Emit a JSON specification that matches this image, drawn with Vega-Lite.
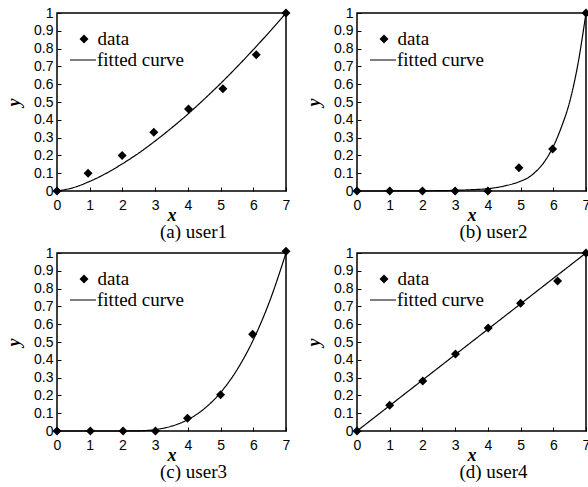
{
  "$schema": "https://vega.github.io/schema/vega-lite/v6.json",
  "padding": {"left": 4, "top": 5, "right": 0, "bottom": 0},
  "background": "white",
  "datasets": {
    "points": [
      {"user": "user1", "x": 0, "y": 0},
      {"user": "user1", "x": 0.95, "y": 0.1},
      {"user": "user1", "x": 1.99, "y": 0.2},
      {"user": "user1", "x": 2.96, "y": 0.33},
      {"user": "user1", "x": 4.02, "y": 0.46},
      {"user": "user1", "x": 5.07, "y": 0.575},
      {"user": "user1", "x": 6.09, "y": 0.765},
      {"user": "user1", "x": 7, "y": 1},
      {"user": "user2", "x": 0, "y": 0},
      {"user": "user2", "x": 1, "y": 0},
      {"user": "user2", "x": 2, "y": 0},
      {"user": "user2", "x": 3, "y": 0},
      {"user": "user2", "x": 4, "y": 0},
      {"user": "user2", "x": 4.95, "y": 0.13},
      {"user": "user2", "x": 5.98, "y": 0.236},
      {"user": "user2", "x": 7, "y": 1},
      {"user": "user3", "x": 0, "y": 0},
      {"user": "user3", "x": 1.02, "y": 0},
      {"user": "user3", "x": 2.02, "y": 0},
      {"user": "user3", "x": 3.01, "y": 0},
      {"user": "user3", "x": 3.99, "y": 0.071},
      {"user": "user3", "x": 5.0, "y": 0.203},
      {"user": "user3", "x": 5.98, "y": 0.544},
      {"user": "user3", "x": 7, "y": 1.01},
      {"user": "user4", "x": 0, "y": 0},
      {"user": "user4", "x": 1, "y": 0.144},
      {"user": "user4", "x": 2.01, "y": 0.281},
      {"user": "user4", "x": 3.01, "y": 0.432},
      {"user": "user4", "x": 4.01, "y": 0.578},
      {"user": "user4", "x": 5, "y": 0.717},
      {"user": "user4", "x": 6.13, "y": 0.842},
      {"user": "user4", "x": 7, "y": 1}
    ],
    "curves": [
      {"user": "user1", "x": 0, "y": 0},
      {"user": "user1", "x": 0.5, "y": 0.019},
      {"user": "user1", "x": 1, "y": 0.054},
      {"user": "user1", "x": 1.5, "y": 0.099},
      {"user": "user1", "x": 2, "y": 0.153},
      {"user": "user1", "x": 2.5, "y": 0.213},
      {"user": "user1", "x": 3, "y": 0.281},
      {"user": "user1", "x": 3.5, "y": 0.354},
      {"user": "user1", "x": 4, "y": 0.432},
      {"user": "user1", "x": 4.5, "y": 0.516},
      {"user": "user1", "x": 5, "y": 0.604},
      {"user": "user1", "x": 5.5, "y": 0.697},
      {"user": "user1", "x": 6, "y": 0.794},
      {"user": "user1", "x": 6.5, "y": 0.895},
      {"user": "user1", "x": 7, "y": 1},
      {"user": "user2", "x": 0, "y": 0},
      {"user": "user2", "x": 1, "y": 0.0002},
      {"user": "user2", "x": 2, "y": 0.0009},
      {"user": "user2", "x": 3, "y": 0.0037},
      {"user": "user2", "x": 3.5, "y": 0.0074},
      {"user": "user2", "x": 4, "y": 0.013},
      {"user": "user2", "x": 4.5, "y": 0.028},
      {"user": "user2", "x": 5, "y": 0.055},
      {"user": "user2", "x": 5.25, "y": 0.077},
      {"user": "user2", "x": 5.5, "y": 0.115},
      {"user": "user2", "x": 5.75, "y": 0.17},
      {"user": "user2", "x": 6, "y": 0.25},
      {"user": "user2", "x": 6.25, "y": 0.36},
      {"user": "user2", "x": 6.5, "y": 0.5},
      {"user": "user2", "x": 6.75, "y": 0.71},
      {"user": "user2", "x": 7, "y": 1},
      {"user": "user3", "x": 0, "y": 0},
      {"user": "user3", "x": 1, "y": 0},
      {"user": "user3", "x": 2, "y": 0},
      {"user": "user3", "x": 2.5, "y": 0.001},
      {"user": "user3", "x": 3, "y": 0.008},
      {"user": "user3", "x": 3.5, "y": 0.027},
      {"user": "user3", "x": 4, "y": 0.064},
      {"user": "user3", "x": 4.5, "y": 0.125},
      {"user": "user3", "x": 5, "y": 0.216},
      {"user": "user3", "x": 5.5, "y": 0.343},
      {"user": "user3", "x": 6, "y": 0.512},
      {"user": "user3", "x": 6.5, "y": 0.729},
      {"user": "user3", "x": 7, "y": 1},
      {"user": "user4", "x": 0, "y": 0},
      {"user": "user4", "x": 7, "y": 1}
    ]
  },
  "columns": 2,
  "spacing": {"column": 12, "row": 2},
  "concat": [
    {
      "width": 229, "height": 178,
      "title": {"text": "(a) user1", "orient": "bottom", "dx": 22},
      "encoding": {
        "x": {"field": "x", "type": "quantitative", "scale": {"domain": [0, 7], "nice": false}, "axis": {"title": "x", "values": [0,1,2,3,4,5,6,7]}},
        "y": {"field": "y", "type": "quantitative", "scale": {"domain": [0, 1], "nice": false}, "axis": {"title": "y", "values": [0,0.1,0.2,0.3,0.4,0.5,0.6,0.7,0.8,0.9,1], "format": "~g"}}
      },
      "layer": [
        {"data": {"name": "curves"}, "transform": [{"filter": "datum.user === 'user1'"}],
         "mark": {"type": "line", "color": "black", "strokeWidth": 1.2, "interpolate": "monotone", "clip": false},
         "encoding": {"strokeDash": {"datum": "fitted curve", "scale": {"domain": ["fitted curve"], "range": [[1, 0]]},
           "legend": {"orient": "none", "legendX": 12, "legendY": 33, "title": null, "symbolSize": 676, "symbolStrokeWidth": 1.2, "symbolStrokeColor": "black", "padding": 0, "labelOffset": 0, "labelFont": "Liberation Serif", "labelFontSize": 19, "labelColor": "black"}}}},
        {"data": {"name": "points"}, "transform": [{"filter": "datum.user === 'user1'"}],
         "mark": {"type": "point", "filled": true, "color": "black", "size": 81, "opacity": 1},
         "encoding": {"shape": {"datum": "data", "scale": {"domain": ["data"], "range": ["diamond"]},
           "legend": {"orient": "none", "legendX": 17.5, "legendY": 16.5, "title": null, "symbolSize": 81, "symbolFillColor": "black", "symbolOpacity": 1, "padding": 0, "labelOffset": 4, "labelFont": "Liberation Serif", "labelFontSize": 19, "labelColor": "black"}}}}
      ]
    },
    {
      "width": 229, "height": 178,
      "title": {"text": "(b) user2", "orient": "bottom", "dx": 22},
      "encoding": {
        "x": {"field": "x", "type": "quantitative", "scale": {"domain": [0, 7], "nice": false}, "axis": {"title": "x", "values": [0,1,2,3,4,5,6,7]}},
        "y": {"field": "y", "type": "quantitative", "scale": {"domain": [0, 1], "nice": false}, "axis": {"title": "y", "values": [0,0.1,0.2,0.3,0.4,0.5,0.6,0.7,0.8,0.9,1], "format": "~g"}}
      },
      "layer": [
        {"data": {"name": "curves"}, "transform": [{"filter": "datum.user === 'user2'"}],
         "mark": {"type": "line", "color": "black", "strokeWidth": 1.2, "interpolate": "monotone", "clip": false},
         "encoding": {"strokeDash": {"datum": "fitted curve", "scale": {"domain": ["fitted curve"], "range": [[1, 0]]},
           "legend": {"orient": "none", "legendX": 12, "legendY": 33, "title": null, "symbolSize": 676, "symbolStrokeWidth": 1.2, "symbolStrokeColor": "black", "padding": 0, "labelOffset": 0, "labelFont": "Liberation Serif", "labelFontSize": 19, "labelColor": "black"}}}},
        {"data": {"name": "points"}, "transform": [{"filter": "datum.user === 'user2'"}],
         "mark": {"type": "point", "filled": true, "color": "black", "size": 81, "opacity": 1},
         "encoding": {"shape": {"datum": "data", "scale": {"domain": ["data"], "range": ["diamond"]},
           "legend": {"orient": "none", "legendX": 17.5, "legendY": 16.5, "title": null, "symbolSize": 81, "symbolFillColor": "black", "symbolOpacity": 1, "padding": 0, "labelOffset": 4, "labelFont": "Liberation Serif", "labelFontSize": 19, "labelColor": "black"}}}}
      ]
    },
    {
      "width": 229, "height": 178,
      "title": {"text": "(c) user3", "orient": "bottom", "dx": 22},
      "encoding": {
        "x": {"field": "x", "type": "quantitative", "scale": {"domain": [0, 7], "nice": false}, "axis": {"title": "x", "values": [0,1,2,3,4,5,6,7]}},
        "y": {"field": "y", "type": "quantitative", "scale": {"domain": [0, 1], "nice": false}, "axis": {"title": "y", "values": [0,0.1,0.2,0.3,0.4,0.5,0.6,0.7,0.8,0.9,1], "format": "~g"}}
      },
      "layer": [
        {"data": {"name": "curves"}, "transform": [{"filter": "datum.user === 'user3'"}],
         "mark": {"type": "line", "color": "black", "strokeWidth": 1.2, "interpolate": "monotone", "clip": false},
         "encoding": {"strokeDash": {"datum": "fitted curve", "scale": {"domain": ["fitted curve"], "range": [[1, 0]]},
           "legend": {"orient": "none", "legendX": 12, "legendY": 33, "title": null, "symbolSize": 676, "symbolStrokeWidth": 1.2, "symbolStrokeColor": "black", "padding": 0, "labelOffset": 0, "labelFont": "Liberation Serif", "labelFontSize": 19, "labelColor": "black"}}}},
        {"data": {"name": "points"}, "transform": [{"filter": "datum.user === 'user3'"}],
         "mark": {"type": "point", "filled": true, "color": "black", "size": 81, "opacity": 1},
         "encoding": {"shape": {"datum": "data", "scale": {"domain": ["data"], "range": ["diamond"]},
           "legend": {"orient": "none", "legendX": 17.5, "legendY": 16.5, "title": null, "symbolSize": 81, "symbolFillColor": "black", "symbolOpacity": 1, "padding": 0, "labelOffset": 4, "labelFont": "Liberation Serif", "labelFontSize": 19, "labelColor": "black"}}}}
      ]
    },
    {
      "width": 229, "height": 178,
      "title": {"text": "(d) user4", "orient": "bottom", "dx": 22},
      "encoding": {
        "x": {"field": "x", "type": "quantitative", "scale": {"domain": [0, 7], "nice": false}, "axis": {"title": "x", "values": [0,1,2,3,4,5,6,7]}},
        "y": {"field": "y", "type": "quantitative", "scale": {"domain": [0, 1], "nice": false}, "axis": {"title": "y", "values": [0,0.1,0.2,0.3,0.4,0.5,0.6,0.7,0.8,0.9,1], "format": "~g"}}
      },
      "layer": [
        {"data": {"name": "curves"}, "transform": [{"filter": "datum.user === 'user4'"}],
         "mark": {"type": "line", "color": "black", "strokeWidth": 1.2, "clip": false},
         "encoding": {"strokeDash": {"datum": "fitted curve", "scale": {"domain": ["fitted curve"], "range": [[1, 0]]},
           "legend": {"orient": "none", "legendX": 12, "legendY": 33, "title": null, "symbolSize": 676, "symbolStrokeWidth": 1.2, "symbolStrokeColor": "black", "padding": 0, "labelOffset": 0, "labelFont": "Liberation Serif", "labelFontSize": 19, "labelColor": "black"}}}},
        {"data": {"name": "points"}, "transform": [{"filter": "datum.user === 'user4'"}],
         "mark": {"type": "point", "filled": true, "color": "black", "size": 81, "opacity": 1},
         "encoding": {"shape": {"datum": "data", "scale": {"domain": ["data"], "range": ["diamond"]},
           "legend": {"orient": "none", "legendX": 17.5, "legendY": 16.5, "title": null, "symbolSize": 81, "symbolFillColor": "black", "symbolOpacity": 1, "padding": 0, "labelOffset": 4, "labelFont": "Liberation Serif", "labelFontSize": 19, "labelColor": "black"}}}}
      ]
    }
  ],
  "resolve": {"scale": {"shape": "independent", "strokeDash": "independent", "x": "independent", "y": "independent"}, "legend": {"shape": "independent", "strokeDash": "independent"}},
  "config": {
    "view": {"stroke": "black", "strokeWidth": 1.5},
    "axis": {
      "grid": false, "domain": false,
      "ticks": true, "tickSize": 4, "tickColor": "black", "tickWidth": 1, "offset": -4,
      "labelFont": "Liberation Sans", "labelFontSize": 14, "labelColor": "black",
      "labelFlush": false, "labelOverlap": false, "labelBound": false,
      "titleFont": "Liberation Serif", "titleFontStyle": "italic", "titleFontWeight": "bold", "titleFontSize": 18, "titleColor": "black"
    },
    "axisX": {"titlePadding": -6, "labelPadding": 7},
    "axisY": {"titlePadding": 10, "labelPadding": 4},
    "title": {"font": "Liberation Serif", "fontSize": 19, "fontWeight": "normal", "color": "black", "offset": -1}
  }
}
